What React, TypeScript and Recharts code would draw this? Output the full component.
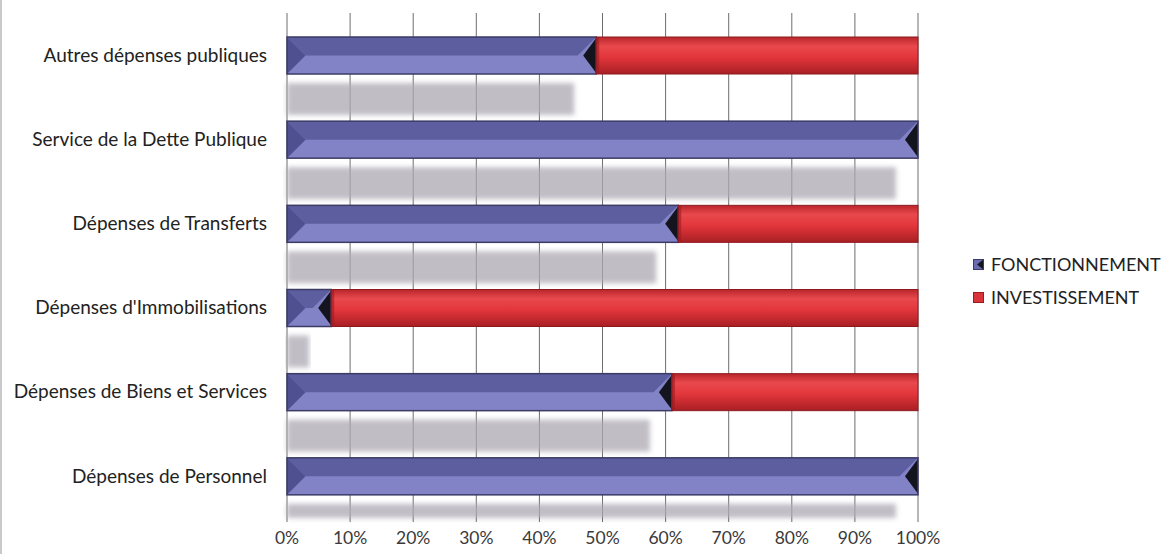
import { BarChart, Bar, XAxis, YAxis, CartesianGrid } from "recharts";

const categories = [
  "Autres dépenses publiques",
  "Service de la Dette Publique",
  "Dépenses de Transferts",
  "Dépenses d'Immobilisations",
  "Dépenses de Biens et Services",
  "Dépenses de Personnel",
];
const fonctionnement = [49, 100, 62, 7, 61, 100];
const investissement = [51, 0, 38, 93, 39, 0];
const xTicks = [0, 10, 20, 30, 40, 50, 60, 70, 80, 90, 100];

const data = categories.map((name, i) => ({
  name,
  fonctionnement: fonctionnement[i],
  investissement: investissement[i],
}));

const W = 1168;
const H = 554;
const MARGIN = { top: 13, right: 250, bottom: 0, left: 0 };
const X_AXIS_H = 36;
const PLOT_BOTTOM = H - MARGIN.bottom - X_AXIS_H;
const FONT = "Lato, 'Open Sans', sans-serif";

// blue bar: bevelled prism look + grey cast shadow under it
const BlueBar = (props: any) => {
  const { x, y, width, height } = props;
  if (!width || width <= 0) return null;
  const h2 = height / 2;
  const sTop = y + height + 9;
  const sH = Math.max(0, Math.min(32, PLOT_BOTTOM - sTop));
  const sW = Math.max(6, width - 22);
  return (
    <g>
      {sH > 0 && (
        <rect
          x={x}
          y={sTop}
          width={sW}
          height={sH}
          fill="#aca8b2"
          opacity={0.75}
          filter="url(#blurShadow)"
        />
      )}
      <rect x={x} y={y} width={width} height={height} fill="#8283c6" />
      <polygon
        points={`${x},${y} ${x + width},${y} ${x + width - h2},${y + h2} ${x + h2},${y + h2}`}
        fill="#5d5e9f"
      />
      <polygon points={`${x},${y} ${x + h2},${y + h2} ${x},${y + height}`} fill="#4f5090" />
      <polygon
        points={`${x + width},${y + 1} ${x + width - 13},${y + h2} ${x + width},${y + height - 1}`}
        fill="#14141f"
      />
      <rect x={x} y={y} width={width} height={height} fill="none" stroke="#3b3b66" strokeWidth={1.5} />
    </g>
  );
};

const RedBar = (props: any) => {
  const { x, y, width, height } = props;
  if (!width || width <= 0) return null;
  return (
    <g>
      <rect x={x} y={y} width={width} height={height} fill="url(#redGrad)" />
      <rect x={x} y={y} width={3} height={height} fill="#9a1c20" opacity={0.6} />
      <rect x={x} y={y} width={width} height={height} fill="none" stroke="#8e1a1e" strokeWidth={1} />
    </g>
  );
};

const LegendBox = () => (
  <div
    style={{
      position: "absolute",
      left: 971,
      top: 248,
      fontFamily: FONT,
      fontSize: 18,
      color: "#222",
      lineHeight: "33px",
    }}
  >
    <div style={{ display: "flex", alignItems: "center" }}>
      <svg width={11} height={11} style={{ marginRight: 7 }}>
        <rect x={0} y={0} width={11} height={11} fill="#6b6cb0" />
        <polygon points="11,0 4,5.5 11,11" fill="#15151f" />
        <rect x={0.5} y={0.5} width={10} height={10} fill="none" stroke="#3b3b66" />
      </svg>
      FONCTIONNEMENT
    </div>
    <div style={{ display: "flex", alignItems: "center" }}>
      <svg width={11} height={11} style={{ marginRight: 7 }}>
        <rect x={0} y={0} width={11} height={11} fill="#d9343a" />
        <rect x={0.5} y={0.5} width={10} height={10} fill="none" stroke="#9a1c20" />
      </svg>
      INVESTISSEMENT
    </div>
  </div>
);

export default function App() {
  return (
    <div
      style={{
        position: "absolute",
        left: 0,
        top: 0,
        width: W,
        height: H,
        background: "#fff",
        borderLeft: "2px solid #c9c9c9",
        boxSizing: "border-box",
      }}
    >
      <BarChart
        width={W - 2}
        height={H}
        data={data}
        layout="vertical"
        margin={MARGIN}
        barSize={37}
      >
        <defs>
          <linearGradient id="redGrad" x1="0" y1="0" x2="0" y2="1">
            <stop offset="0%" stopColor="#b8262b" />
            <stop offset="25%" stopColor="#e9494d" />
            <stop offset="55%" stopColor="#e2363b" />
            <stop offset="100%" stopColor="#a81f24" />
          </linearGradient>
          <filter id="blurShadow" x="-5%" y="-30%" width="110%" height="160%">
            <feGaussianBlur stdDeviation="2.5" />
          </filter>
        </defs>
        <CartesianGrid horizontal={false} stroke="#6d6d6d" strokeWidth={1} />
        <XAxis
          type="number"
          domain={[0, 100]}
          ticks={xTicks}
          interval={0}
          tickFormatter={(v: number) => `${v}%`}
          axisLine={false}
          tickLine={{ stroke: "#6d6d6d" }}
          tickSize={4}
          tickMargin={10}
          height={X_AXIS_H}
          tick={{ fontSize: 17.5, fill: "#3a3a3a", fontFamily: FONT }}
        />
        <YAxis
          type="category"
          dataKey="name"
          width={285}
          axisLine={false}
          tickLine={false}
          tickMargin={14}
          tick={{ fontSize: 19, fill: "#222", fontFamily: FONT }}
        />
        <Bar
          dataKey="fonctionnement"
          name="FONCTIONNEMENT"
          stackId="a"
          fill="#6b6cb0"
          shape={BlueBar}
          isAnimationActive={false}
        />
        <Bar
          dataKey="investissement"
          name="INVESTISSEMENT"
          stackId="a"
          fill="#d9343a"
          shape={RedBar}
          isAnimationActive={false}
        />
      </BarChart>
      <LegendBox />
    </div>
  );
}
